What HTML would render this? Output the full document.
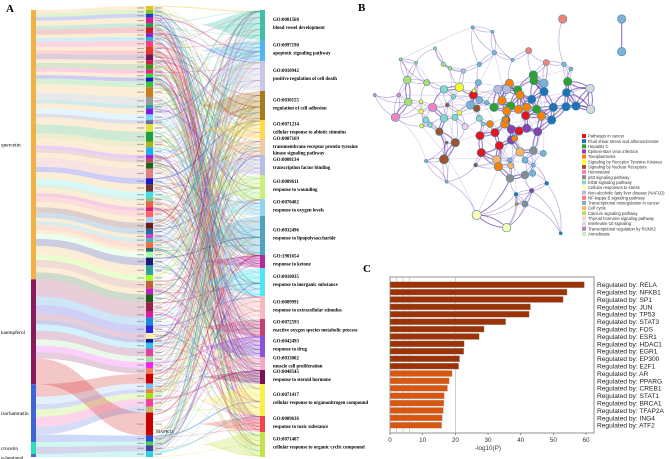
<!DOCTYPE html>
<html><head><meta charset="utf-8"><style>
html,body{margin:0;padding:0;background:#fff;width:669px;height:459px;overflow:hidden}
svg{display:block}
text{font-family:"Liberation Serif",serif}
.s{font-family:"Liberation Sans","DejaVu Sans",sans-serif}
</style></head><body>
<svg id="fig" width="669" height="459" viewBox="0 0 669 459">
<g id="A"></g>
<g id="B"></g>
<g id="C"></g>
<text x="6" y="12" font-size="11" font-weight="bold">A</text>
<text x="358" y="11" font-size="11" font-weight="bold">B</text>
<text x="363" y="272" font-size="11" font-weight="bold">C</text>
</svg>
<script>
const NS='http://www.w3.org/2000/svg';
function el(t,a,p){const e=document.createElementNS(NS,t);for(const k in a)e.setAttribute(k,a[k]);p.appendChild(e);return e;}

// ---------- Panel A: Sankey ----------
const sourceNames=['quercetin','kaempferol','isorhamnetin','crocetin','n-heptanal'];
const sourceWeights=[270,105,58,12,3];
const sourceColors=['#f2b143','#8a1a5e','#3f63d8','#2ee0b8','#4a6ad0'];
const goIds=['GO:0001568','GO:0097190','GO:0010942','GO:0030155','GO:0071214','GO:0007169','GO:0008134','GO:0009611','GO:0070482','GO:0032496','GO:1901654','GO:0010035','GO:0009991','GO:0072593','GO:0042493','GO:0033002','GO:0048545','GO:0071417','GO:0009636','GO:0071407'];
const goNames=[['blood vessel development'],['apoptotic signaling pathway'],['positive regulation of cell death'],['regulation of cell adhesion'],['cellular response to abiotic stimulus'],['transmembrane receptor protein tyrosine','kinase signaling pathway'],['transcription factor binding'],['response to wounding'],['response to oxygen levels'],['response to lipopolysaccharide'],['response to ketone'],['response to inorganic substance'],['response to extracellular stimulus'],['reactive oxygen species metabolic process'],['response to drug'],['muscle cell proliferation'],['response to steroid hormone'],['cellular response to organonitrogen compound'],['response to toxic substance'],['cellular response to organic cyclic compound']];
const goWeights=[30,21,30,29,19,16,20,24,17,39,13,28,23,17,21,13,14,32,16,25];
const goColors=['#3fbfa8','#52b5ef','#c9c6e6','#a87a1c','#ffd94a','#f0c9a8','#b5bde8','#c9f07a','#8fd3f5','#4fa3bf','#b5299a','#4fe6f5','#f7b8c0','#c43f74','#8a52d8','#f7a8c8','#7a125a','#f7f04a','#f0454f','#c4e04a'];
const geneColors=['#e8c020','#7acc20','#1a3acc','#d81a8a','#20a060','#cc1a20','#8a20cc','#20b0d8','#ff4080','#d84020','#f03030','#6a1a5a','#c8204a','#4a8a20','#ff1a8a','#2ae03a','#1a1acc','#40c040','#cc7a20','#9a9a9a','#2aa0a0','#7a20e0','#7fd0ff','#6a6aa0','#e0e040','#20a040','#b0b020','#1ab0f0','#a020d0','#b05050','#206020','#e08080','#1a1ad0','#6a3a3a','#40e0e0','#80c080','#f06040','#d02080','#ff6060','#a8d0ff','#6a1a1a','#2a6a9a','#d040d0','#4ab0b0','#f07040','#1a6a6a','#aaffaa','#1a1a7a','#30a0a0','#a0ff2a','#c06040','#c020c0','#1a5a1a','#9a204a','#e01aa0','#1a8ad8','#2a2ad8','#fff0a0','#1a1a9a','#30c0f0','#e040a0','#a0e0a0','#f020f0','#f08060','#cc0000','#80c0f0','#f08030','#a0e020','#f040a0','#c0c060','#cc0000','#1a50e0','#50d050','#4040a0','#30d0e0'];
const geneWeights=[2,2,2,3,2,3,2,2,3,2,2,3,2,3,2,2,2,3,5,4,2,3,3,2,4,5,3,4,2,2,3,5,3,4,3,2,3,2,3,3,3,3,2,2,3,2,3,4,5,3,4,3,4,5,3,4,4,3,2,3,4,3,3,3,5,3,2,3,4,3,12,3,2,3,3];
const geneSource=[0,0,0,0,0,0,0,0,0,0,0,0,0,0,0,0,0,0,0,0,0,0,0,0,0,0,0,0,0,0,0,0,0,0,0,0,0,0,0,0,0,0,0,0,0,0,0,0,0,0,0,0,0,1,1,1,1,1,1,1,1,1,1,1,2,2,2,2,2,2,1,2,3,3,4];

(function(){
 const g=document.getElementById('A');
 const top=6,bot=457,H=bot-top;
 const sx=31,sw=5,mx=146,mw=7,tx=260,tw=5;
 const sSum=sourceWeights.reduce((a,b)=>a+b,0);
 let y=top+4;const sPos=[];
 sourceWeights.forEach((w,i)=>{const h=w/sSum*(H-4);sPos.push([y,h]);y+=h;});
 const gSum=goWeights.reduce((a,b)=>a+b,0);
 y=top+4;const tPos=[];
 goWeights.forEach((w,i)=>{const h=w/gSum*(H-4);tPos.push([y,h]);y+=h;});
 const mSum=geneWeights.reduce((a,b)=>a+b,0);
 y=top;const mPos=[];
 geneWeights.forEach((w,i)=>{const h=w/mSum*H;mPos.push([y,h]);y+=h;});
 const sCursor=sPos.map(p=>p[0]);
 const ribG=el('g',{},g);
 
 
 geneWeights.forEach((w,i)=>{
   const s=geneSource[i];const sh=sPos[s][1]*w/geneWeights.filter((_,j)=>geneSource[j]===s).reduce((a,b)=>a+b,0);
   const y0=sCursor[s];sCursor[s]+=sh;
   const y1=mPos[i][0],h1=mPos[i][1];
   const x0=sx+sw,x1=mx,cx=(x0+x1)/2;
   const p=el('path',{d:`M${x0},${y0}C${cx},${y0} ${cx},${y1} ${x1},${y1}L${x1},${y1+h1}C${cx},${y1+h1} ${cx},${y0+sh} ${x0},${y0+sh}Z`,fill:i%3===0?sourceColors[s]:geneColors[i],'fill-opacity':'0.22'},ribG);
   
   
 });
 const lnG=el('g',{},g);
 
 
 geneWeights.forEach((w,i)=>{
   const targets=[(i*7)%20,(i*3+5)%20,(i*11+2)%20,(i*13+9)%20,(i*17+4)%20,(i*9+13)%20];
   targets.forEach((t,k)=>{
     const y0=mPos[i][0]+mPos[i][1]*(k+0.5)/6;
     const y1=tPos[t][0]+tPos[t][1]*(((i*5+k*3)%10)+0.5)/10;
     const x0=mx+mw,x1=tx,cx=(x0+x1)/2;
     const p=el('path',{d:`M${x0},${y0}C${cx},${y0} ${cx},${y1} ${x1},${y1}`,fill:'none',stroke:k%2?goColors[t]:geneColors[i],'stroke-opacity':'0.35','stroke-width':(k===0?1.2:0.6)},lnG);
     
     
   });
 });
 tPos.forEach((p,t)=>{
   const w=el('path',{d:`M${tx},${p[0]}C${tx-30},${p[0]+2} ${tx-40},${p[0]+p[1]/2-2} ${tx-60},${p[0]+p[1]/2}C${tx-40},${p[0]+p[1]/2+2} ${tx-30},${p[0]+p[1]-2} ${tx},${p[0]+p[1]}Z`,fill:goColors[t],'fill-opacity':'0.3'},g);
   
   
 });
 sPos.forEach((p,i)=>{
   const r=el('rect',{x:sx,y:p[0],width:sw,height:Math.max(p[1],1.5),fill:sourceColors[i]},g);
   
   
   const t=el('text',{x:1,y:p[0]+p[1]/2+(i===4?4:2),'font-size':'5.3'},g);
   t.textContent=sourceNames[i];
   
   
 });
 mPos.forEach((p,i)=>{
   const r=el('rect',{x:mx,y:p[0],width:mw,height:p[1],fill:geneColors[i%geneColors.length]},g);
   
   
   const a=el('rect',{x:mx-9,y:p[0]+p[1]/2-0.6,width:7,height:1.2,fill:'#888','fill-opacity':'0.6'},g);
   
   
   const b=el('rect',{x:mx+mw+2,y:p[0]+p[1]/2-0.6,width:7,height:1.2,fill:'#888','fill-opacity':'0.6'},g);
   
   
 });
 const mk=el('text',{x:156,y:433,'font-size':'4.5'},g);mk.textContent='MAPK13';
 
 
 tPos.forEach((p,t)=>{
   const r=el('rect',{x:tx,y:p[0],width:tw,height:p[1],fill:goColors[t]},g);
   
   
   const lines=[goIds[t]].concat(goNames[t]);
   const cy=p[0]+p[1]/2-(lines.length-1)*3;
   lines.forEach((s,k)=>{
     const tt=el('text',{x:273,y:cy+k*6.2+(k===0?-1:1),'font-size':'4.8','font-weight':'bold'},g);
     tt.textContent=s;
     
     
   });
 });
})();

// ---------- Panel B: network ----------
const nodeX=[668,845,845,398,457,285,182,228,310,330,370,418,463,518,566,619,672,693,580,582,683,612,680,612,695,750,752,708,678,640,635,575,590,604,560,535,508,533,540,474,500,486,512,462,500,440,415,400,392,410,358,402,340,312,260,202,205,278,166,104,176,243,243,245,270,258,322,312,345,358,375,298,346,312,320,407,420,465,478,424,498,514,537,557,514,560,593,450,494,497,524,540,470,512,475,510,580,610,555,510,555,578,580,620,528,575,555,530,410,500,662,258,320,418,430,418];
const nodeY=[57,57,155,82,95,145,178,188,193,205,213,193,158,180,152,188,193,207,225,242,245,250,278,275,280,265,328,318,320,322,360,298,328,348,322,328,250,270,285,268,268,302,318,322,333,308,248,285,315,325,262,272,290,268,248,240,306,322,352,285,285,305,334,378,375,360,315,355,352,338,380,395,428,478,428,495,407,398,437,458,360,388,393,347,420,385,395,372,372,358,416,456,479,497,500,480,452,460,480,535,525,520,495,550,583,572,612,612,645,683,700,483,545,300,372,355];
const nodeR=[11,11,11,4,4,4,4,4,6,5,6,6,6,4,8,8,6,5,11,11,11,11,11,11,5,11,11,11,11,11,11,11,11,11,11,11,11,11,11,11,11,11,11,11,11,6,8,11,11,9,11,5,6,10,8,10,10,11,11,4,5,5,6,5,6,8,5,10,8,6,8,10,11,12,4,5,11,11,11,11,11,11,11,11,11,11,11,9,11,8,8,11,11,8,11,6,10,8,8,10,10,8,5,5,5,6,8,4,12,11,4,4,4,9,5,8];
const nodeCat=['s','lb','lb','lb','lb','li','li','li','li','li','lv','lb','lb','lb','s','s','lb','lb','g','g','g','lb','b','b','lg','lg','lg','b','b','b','b','b','g','o','o','o','o','g','o','lv','lv','o','g','g','o','lb','lb','r','lb','br','y','y','t','t','li','li','li','p','p','p','p','y','y','y','t','t','br','t','t','y','lp','br','br','br','br','br','r','r','r','r','r','v','r','r','v','v','v','o','o','o','o','lo','lo','lo','o','lb','gr','lb','lb','gr','gr','lb','lb','b','b','v','gr','o','ly','ly','b','lb','lb','lb','t','t'];
const catColor={r:'#e8141c',b:'#2171b5',g:'#33a02c',v:'#8e3fa8',o:'#ff7f00',y:'#ffff1a',br:'#a0522d',p:'#f781bf',gr:'#8c8c8c',t:'#8dd3c7',ly:'#ffffb3',lv:'#bebada',s:'#fb8072',lb:'#80b1d3',lo:'#fdb462',li:'#b3de69',lp:'#fccde5',lg:'#d9d9d9'};
const legendLabels=['Pathways in cancer','Fluid shear stress and atherosclerosis','Hepatitis C','Epstein-Barr virus infection','Toxoplasmosis','Signaling by Receptor Tyrosine Kinases','Signaling by Nuclear Receptors','Hemostasis','p53 signaling pathway','ErbB signaling pathway','Cellular responses to stress','Non-alcoholic fatty liver disease (NAFLD)','NF-kappa B signaling pathway','Transcriptional misregulation in cancer','Cell cycle','Calcium signaling pathway','Thyroid hormone signaling pathway','Interleukin-10 signaling','Transcriptional regulation by RUNX2','Amoebiasis'];
const legendColors=['#e8141c','#2171b5','#33a02c','#8e3fa8','#ff7f00','#ffff1a','#a0522d','#f781bf','#8c8c8c','#8dd3c7','#ffffb3','#bebada','#fb8072','#80b1d3','#fdb462','#b3de69','#fccde5','#d9d9d9','#bc80bd','#ccebc5'];
(function(){
 const g=document.getElementById('B');
 const X=i=>340+nodeX[i]/3,Y=i=>nodeY[i]/3;
 const eg=el('g',{},g);
 
 
 const n=nodeX.length;
 const isolated=i=>i===1||i===2;
 for(let i=0;i<n;i++){
   if(isolated(i))continue;
   const d=[];
   for(let j=0;j<n;j++)if(j!==i&&!isolated(j))d.push([Math.hypot(nodeX[i]-nodeX[j],nodeY[i]-nodeY[j]),j]);
   d.sort((a,b)=>a[0]-b[0]);
   const k=i===0?1:(nodeR[i]>=10?5:3);
   for(let m=0;m<k;m++){
     const j=d[m][1];if(d[m][0]>260&&i!==0)continue;
     const dx=nodeX[i]-nodeX[j],dy=nodeY[i]-nodeY[j];
     const mxp=(X(i)+X(j))/2+dy/3*0.2,myp=(Y(i)+Y(j))/2-dx/3*0.2;
     const big=nodeR[i]>=10&&nodeR[j]>=10&&i!==0;
     const e=el('path',{d:`M${X(i)},${Y(i)}Q${mxp},${myp} ${X(j)},${Y(j)}`,fill:'none',stroke:'#5b2a9e','stroke-opacity':big?0.6:0.4,'stroke-width':big?1.1:0.7},eg);
     
     
   }
   if(i%3===0&&i!==0){
     const j=(i*37+11)%n;
     if(isolated(j)||j===0)continue;
     const e=el('path',{d:`M${X(i)},${Y(i)}Q${(X(i)+X(j))/2+8},${(Y(i)+Y(j))/2-6} ${X(j)},${Y(j)}`,fill:'none',stroke:'#7b55b8','stroke-opacity':0.3,'stroke-width':0.6},eg);
     
     
   }
 }
 const e2=el('line',{x1:X(1),y1:Y(1),x2:X(2),y2:Y(2),stroke:'#9a80cc','stroke-width':1.2},eg);
 
 
 for(let i=0;i<n;i++){
   const c=el('circle',{cx:X(i),cy:Y(i),r:nodeR[i]/3*1.15,fill:catColor[nodeCat[i]],stroke:'#3a8fb0','stroke-width':0.6},g);
   
   
 }
 legendLabels.forEach((s,k)=>{
   const y=134+k*5.15;
   const r=el('rect',{x:582,y:y,width:4,height:4,fill:legendColors[k]},g);
   
   
   const t=el('text',{x:588,y:y+3.6,'font-size':'4.2',fill:'#333',class:'s'},g);
   t.textContent=s;
   
   
 });
})();

// ---------- Panel C: bar chart ----------
const regulators=['RELA','NFKB1','SP1','JUN','TP53','STAT3','FOS','ESR1','HDAC1','EGR1','EP300','E2F1','AR','PPARG','CREB1','STAT1','BRCA1','TFAP2A','ING4','ATF2'];
const pValues=[59.5,54.2,53,43,42.6,35.4,28.8,27.3,22.7,22.6,21.3,21,19,18.1,17.6,16.6,16.5,16.3,16,15.8];
const xTicks=[0,10,20,30,40,50,60];
const gridVals=[2,4,6,20];
(function(){
 const g=document.getElementById('C');
 const x0=390,x1=594,yT=277,yB=433;
 const xs=v=>x0+v*(586-x0)/60;
 const step=(425.3-284.7)/(regulators.length-1);
 const ys=i=>284.7+i*step;
 const f=el('rect',{x:x0,y:yT,width:x1-x0,height:yB-yT,fill:'#fff',stroke:'#777','stroke-width':0.8},g);
 
 
 gridVals.forEach(v=>{const l=el('line',{x1:xs(v),x2:xs(v),y1:yT,y2:yB,stroke:'#bbb','stroke-width':0.7},g);
   
   });
 regulators.forEach((r,i)=>{
   const b=el('rect',{x:xs(0),y:ys(i)-3,width:xs(pValues[i])-xs(0),height:6,fill:i<12?'#9b3306':'#d9560f',stroke:'#aaa','stroke-width':0.4},g);
   
   
   const t=el('text',{x:597,y:ys(i)+2.4,'font-size':'6.6',fill:'#222',class:'s'},g);
   t.textContent='Regulated by: '+r;
   
   
 });
 xTicks.forEach(v=>{
   const l=el('line',{x1:xs(v),x2:xs(v),y1:yB,y2:yB+2,stroke:'#555','stroke-width':0.6},g);
   
   
   const t=el('text',{x:xs(v),y:yB+9,'font-size':'6.3','text-anchor':'middle',fill:'#333',class:'s'},g);
   t.textContent=v;
   
   
 });
 const xl=el('text',{x:xs(30),y:yB+17,'font-size':'6.3','text-anchor':'middle',fill:'#333',class:'s'},g);
 xl.textContent='-log10(P)';
 
 
})();
</script>
</body></html>
